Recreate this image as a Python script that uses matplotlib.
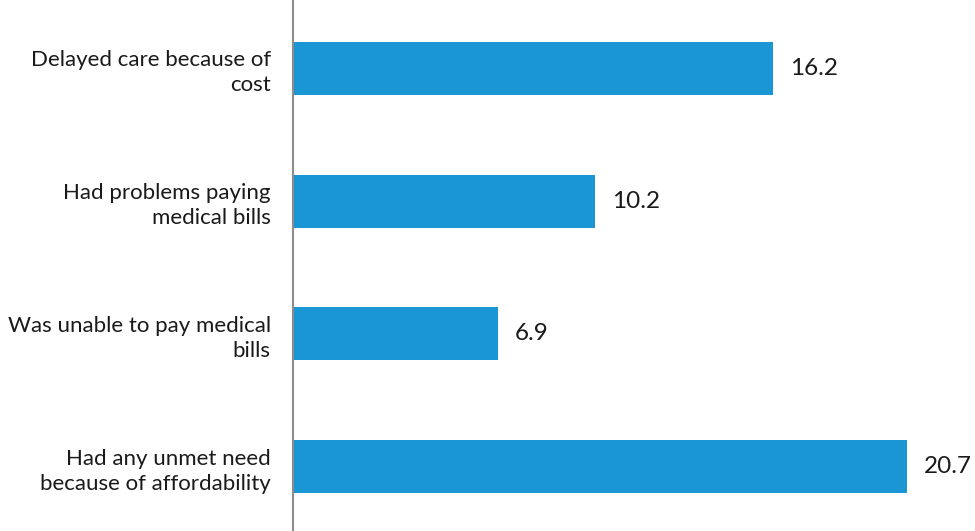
import matplotlib
matplotlib.use('Agg')
import matplotlib.pyplot as plt

categories = [
    "Delayed care because of\ncost",
    "Had problems paying\nmedical bills",
    "Was unable to pay medical\nbills",
    "Had any unmet need\nbecause of affordability",
]
values = [16.2, 10.2, 6.9, 20.7]
value_labels = ["16.2", "10.2", "6.9", "20.7"]

plt.rcParams['font.family'] = ['Lato', 'DejaVu Sans']

fig = plt.figure(figsize=(9.75, 5.31), dpi=100)
ax = fig.add_axes([293 / 975, 0, 1 - 293 / 975, 1])

pos = list(range(len(categories)))
bars = ax.barh(pos, values, height=0.4, color='#1a96d4')

ax.set_xlim(0, 23.0)
ax.set_ylim(3.485, -0.515)

# value labels to the right of each bar
for b, lab in zip(bars, value_labels):
    ax.annotate(lab, (b.get_width(), b.get_y() + b.get_height() / 2),
                xytext=(17, 0), textcoords='offset pixels',
                va='center', ha='left', fontsize=17.5, color='#1a1a1a')

ax.set_yticks(pos)
ax.set_yticklabels(categories, fontsize=16, color='#1a1a1a', linespacing=1.32)
ax.tick_params(axis='y', length=0, pad=16)
ax.set_xticks([])

for s in ['top', 'right', 'bottom']:
    ax.spines[s].set_visible(False)
ax.spines['left'].set_color('#8c8c8c')
ax.spines['left'].set_linewidth(1.5)

fig.savefig('out.png', dpi=100)
